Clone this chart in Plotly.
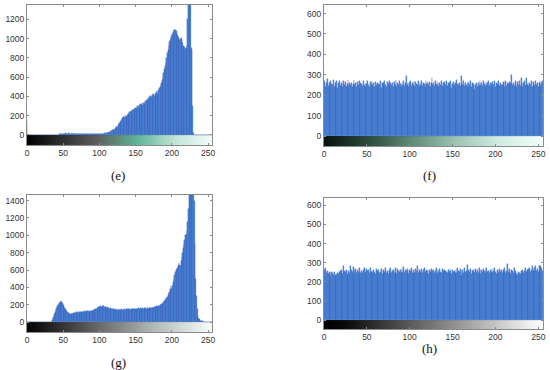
import numpy as np
import plotly.graph_objects as go

bins = list(range(256))
x_ticks = [0, 50, 100, 150, 200, 250]

hist_e = [
    150, 0, 0, 0, 0, 0, 0, 0, 0, 0, 0, 0, 0, 0, 0, 0,
    0, 0, 0, 0, 0, 0, 0, 0, 0, 0, 0, 0, 0, 0, 0, 0,
    0, 0, 0, 0, 0, 0, 0, 0, 0, 0, 1, 2, 3, 5, 6, 8,
    10, 12, 15, 14, 12, 18, 10, 8, 14, 16, 20, 12, 10, 15, 18, 14,
    12, 16, 14, 10, 12, 8, 10, 6, 8, 10, 6, 8, 5, 8, 6, 10,
    8, 6, 10, 8, 12, 6, 8, 10, 8, 12, 10, 14, 12, 10, 8, 12,
    10, 14, 12, 10, 10, 12, 8, 14, 10, 15, 12, 18, 14, 20, 22, 18,
    28, 25, 35, 30, 42, 38, 50, 55, 60, 55, 70, 75, 85, 80, 100, 110,
    120, 135, 150, 160, 175, 185, 190, 180, 195, 185, 200, 210, 220, 215, 235, 240,
    250, 245, 260, 255, 270, 265, 275, 270, 285, 300, 290, 310, 295, 320, 315, 330,
    310, 335, 325, 350, 340, 360, 355, 380, 370, 390, 380, 400, 395, 410, 385, 420,
    405, 430, 440, 450, 430, 460, 470, 490, 500, 520, 540, 570, 600, 640, 680, 720,
    760, 800, 850, 880, 920, 960, 990, 1010, 1030, 1050, 1070, 1085, 1090, 1085, 1075, 1060,
    1040, 1020, 1000, 990, 1000, 1010, 980, 950, 920, 900, 910, 890, 900, 920, 1200, 1500,
    1500, 1500, 1500, 900, 880, 300, 20, 0, 0, 0, 0, 0, 0, 0, 0, 0,
    0, 0, 0, 0, 0, 0, 0, 0, 0, 0, 0, 0, 0, 0, 0, 0,
]

hist_f = [
    265, 272, 240, 258, 280, 245, 262, 238, 270, 255, 248, 275, 242, 260, 252, 268,
    235, 258, 270, 246, 262, 255, 240, 272, 250, 265, 238, 256, 274, 244, 260, 248,
    262, 240, 255, 276, 248, 258, 242, 266, 252, 270, 236, 260, 254, 245, 268, 250,
    240, 262, 256, 272, 248, 238, 264, 255, 270, 246, 258, 242, 266, 250, 260, 238,
    255, 248, 270, 236, 262, 258, 244, 268, 250, 240, 264, 256, 272, 246, 262, 248,
    258, 240, 266, 252, 274, 238, 260, 248, 268, 255, 242, 262, 250, 270, 244, 258,
    295, 250, 262, 240, 258, 270, 246, 260, 252, 268, 238, 264, 256, 248, 272, 242,
    260, 250, 268, 244, 262, 256, 240, 270, 254, 262, 248, 266, 242, 258, 284, 250,
    262, 244, 270, 255, 248, 266, 240, 258, 252, 272, 246, 260, 238, 264, 250, 268,
    244, 258, 262, 250, 270, 236, 256, 266, 248, 260, 242, 274, 254, 250, 262, 246,
    292, 256, 248, 270, 244, 262, 252, 240, 266, 258, 250, 272, 238, 260, 254, 248,
    226, 250, 262, 240, 258, 246, 270, 252, 260, 244, 268, 256, 242, 264, 250, 258,
    270, 246, 260, 254, 242, 266, 250, 272, 240, 262, 256, 248, 268, 244, 260, 252,
    250, 264, 258, 240, 270, 246, 262, 254, 266, 248, 258, 300, 250, 262, 244, 268,
    256, 242, 266, 250, 272, 246, 282, 258, 240, 262, 270, 250, 286, 248, 260, 244,
    262, 250, 272, 238, 264, 256, 244, 268, 250, 262, 240, 258, 270, 246, 262, 272,
]

hist_g = [
    0, 0, 0, 0, 0, 0, 0, 0, 0, 0, 0, 0, 0, 0, 0, 0,
    0, 0, 0, 0, 0, 0, 0, 0, 0, 0, 0, 0, 0, 0, 0, 0,
    0, 0, 5, 20, 40, 60, 90, 110, 140, 160, 185, 200, 210, 220, 235, 245,
    230, 215, 200, 180, 165, 150, 135, 125, 115, 108, 100, 95, 92, 95, 90, 98,
    100, 105, 100, 108, 110, 105, 112, 108, 115, 110, 118, 115, 120, 112, 118, 122,
    115, 120, 125, 118, 122, 128, 120, 125, 130, 128, 132, 128, 135, 140, 145, 150,
    155, 160, 165, 170, 172, 175, 180, 170, 185, 178, 182, 175, 170, 172, 165, 170,
    160, 162, 155, 158, 150, 155, 148, 145, 150, 140, 145, 138, 142, 135, 140, 145,
    138, 142, 140, 145, 135, 142, 138, 145, 140, 148, 142, 145, 150, 142, 148, 140,
    152, 145, 150, 148, 155, 150, 152, 148, 155, 150, 158, 145, 155, 160, 150, 155,
    158, 150, 160, 155, 162, 150, 158, 165, 155, 160, 162, 158, 165, 160, 168, 165,
    170, 172, 175, 180, 178, 185, 190, 185, 195, 200, 205, 210, 220, 230, 240, 250,
    260, 275, 290, 310, 330, 350, 380, 420, 380, 420, 460, 500, 540, 580, 600, 610,
    620, 650, 680, 660, 650, 700, 750, 800, 850, 900, 950, 1000, 1000, 1050, 1150, 1300,
    1500, 1500, 1500, 1500, 1500, 1500, 1500, 1400, 900, 500, 300, 150, 70, 40, 30, 20,
    15, 12, 10, 8, 6, 5, 4, 3, 2, 2, 1, 1, 0, 0, 0, 0,
]

hist_h = [
    250, 262, 270, 245, 255, 240, 252, 248, 230, 250, 244, 238, 252, 232, 242, 236,
    248, 240, 250, 255, 262, 246, 240, 285, 255, 252, 262, 238, 248, 258, 246, 280,
    262, 250, 276, 240, 258, 268, 244, 260, 252, 270, 238, 248, 256, 246, 262, 272,
    250, 240, 266, 254, 262, 246, 270, 252, 258, 244, 262, 250, 242, 268, 256, 248,
    260, 244, 252, 268, 240, 262, 256, 250, 270, 246, 258, 242, 264, 250, 272, 248,
    256, 262, 246, 270, 252, 240, 266, 258, 250, 262, 244, 268, 252, 276, 248, 260,
    254, 266, 250, 242, 262, 258, 270, 246, 260, 252, 248, 268, 256, 282, 244, 262,
    258, 250, 266, 244, 262, 270, 252, 248, 264, 256, 240, 262, 250, 268, 246, 258,
    262, 248, 254, 270, 242, 260, 250, 266, 252, 244, 268, 258, 246, 262, 256, 250,
    244, 262, 250, 268, 256, 240, 264, 252, 258, 248, 262, 246, 270, 254, 250, 266,
    230, 256, 262, 244, 270, 250, 258, 288, 246, 262, 252, 268, 240, 256, 262, 250,
    248, 266, 252, 260, 244, 270, 256, 242, 262, 250, 268, 254, 246, 262, 272, 250,
    256, 244, 262, 250, 268, 246, 258, 272, 250, 240, 264, 256, 248, 266, 252, 262,
    248, 262, 256, 270, 244, 258, 292, 250, 266, 252, 240, 262, 258, 248, 270, 254,
    246, 240, 236, 252, 248, 242, 256, 250, 262, 246, 258, 270, 250, 262, 256, 266,
    270, 252, 264, 280, 258, 262, 272, 284, 256, 268, 250, 280, 262, 284, 270, 255,
]

panels = [
    dict(name="(e)", data=hist_e, yr=[-104, 1348], yt=[0, 200, 400, 600, 800, 1000, 1200],
         dom_x=[27, 212], dom_y=[5, 145], label=(118, 175),
         cs=[[0, "#000000"], [0.38, "#5e5e5e"], [0.48, "#5d8676"], [0.6, "#5fb396"],
             [0.8, "#bfe4d6"], [1, "#f3fbf8"]]),
    dict(name="(f)", data=hist_f, yr=[-49, 642], yt=[0, 100, 200, 300, 400, 500, 600],
         dom_x=[324, 543], dom_y=[5, 146], label=(429, 175),
         cs=[[0, "#07120d"], [0.2, "#2c4a3c"], [0.4, "#5f8a76"], [0.6, "#9cc2b1"],
             [0.8, "#d0ebe1"], [1, "#f0fffa"]]),
    dict(name="(g)", data=hist_g, yr=[-115, 1465], yt=[0, 200, 400, 600, 800, 1000, 1200, 1400],
         dom_x=[27, 212], dom_y=[195, 332], label=(118, 362),
         cs=[[0, "#000000"], [0.4, "#6c6c6c"], [0.7, "#b4bcb8"], [1, "#f6fcf8"]]),
    dict(name="(h)", data=hist_h, yr=[-47, 638], yt=[0, 100, 200, 300, 400, 500, 600],
         dom_x=[324, 543], dom_y=[198, 329], label=(429, 348),
         cs=[[0, "#000000"], [0.1, "#0a0a0a"], [1, "#ffffff"]]),
]

W, H = 550, 370
fig = go.Figure()
layout = dict(width=W, height=H, margin=dict(l=0, r=0, t=0, b=0, autoexpand=False),
              paper_bgcolor="white", plot_bgcolor="white", showlegend=False,
              bargap=0, annotations=[])

edges = [b - 0.5 for b in bins] + [255.5]
for i, p in enumerate(panels):
    n = "" if i == 0 else str(i + 1)
    xa, ya = "x" + n, "y" + n
    fig.add_trace(go.Heatmap(z=[bins], x=edges, y=[p["yr"][0], 0], colorscale=p["cs"],
                             showscale=False, zmin=0, zmax=255, xaxis=xa, yaxis=ya,
                             hoverinfo="skip"))
    fig.add_trace(go.Bar(x=bins, y=p["data"], xaxis=xa, yaxis=ya,
                         marker=dict(color="#3a92e0", line=dict(color="#3a4cae", width=0.3)),
                         width=1.0))
    axstyle = dict(showline=True, linecolor="#8a8a8a", linewidth=1, mirror="ticks",
                   ticks="inside", ticklen=2, tickcolor="#8a8a8a", showgrid=False,
                   zeroline=False, automargin=False,
                   tickfont=dict(family="Liberation Sans, Arial", size=8.5, color="#333333"))
    layout["xaxis" + n] = dict(axstyle, domain=[p["dom_x"][0] / W, p["dom_x"][1] / W],
                               range=[0, 255.5], tickvals=x_ticks, anchor=ya)
    layout["yaxis" + n] = dict(axstyle, domain=[1 - p["dom_y"][1] / H, 1 - p["dom_y"][0] / H],
                               range=p["yr"], tickvals=p["yt"], anchor=xa)
    layout["annotations"].append(dict(text=p["name"], x=p["label"][0] / W, y=1 - p["label"][1] / H,
                                      xref="paper", yref="paper", showarrow=False,
                                      xanchor="center", yanchor="middle",
                                      font=dict(family="Liberation Serif, Times New Roman",
                                                size=13, color="#111111")))

fig.update_layout(**layout)
fig.write_html("out.html", config={"displayModeBar": False},
               post_script="document.body.style.margin='0';document.body.style.overflow='hidden';")
